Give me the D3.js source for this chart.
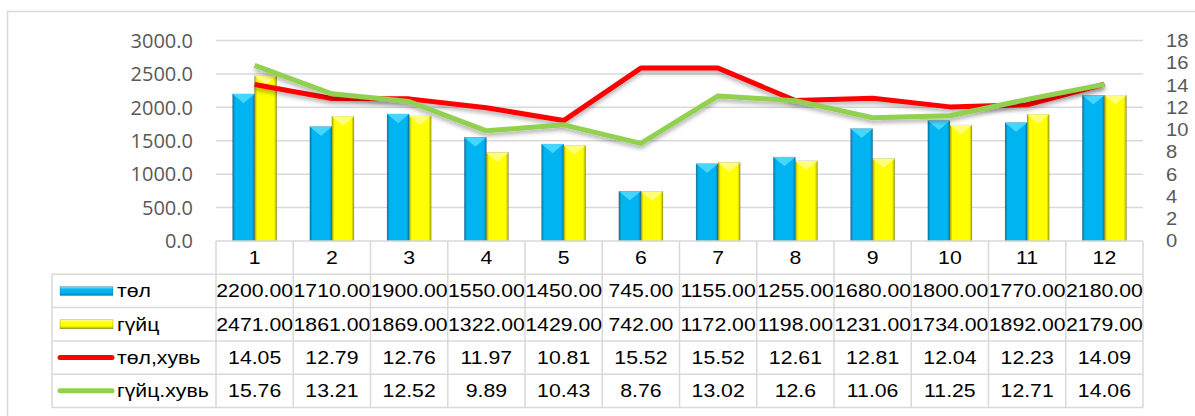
<!DOCTYPE html>
<html>
<head>
<meta charset="utf-8">
<script src="https://cdn.jsdelivr.net/npm/d3@7"></script>
<style>
  body { margin: 0; background: #fff; }
  svg { display: block; }
</style>
</head>
<body>
<svg width="1195" height="416"></svg>
<script>
// data
const months = ["1", "2", "3", "4", "5", "6", "7", "8", "9", "10", "11", "12"];
const tol = [2200, 1710, 1900, 1550, 1450, 745, 1155, 1255, 1680, 1800, 1770, 2180];
const guits = [2471, 1861, 1869, 1322, 1429, 742, 1172, 1198, 1231, 1734, 1892, 2179];
const tolPct = [14.05, 12.79, 12.76, 11.97, 10.81, 15.52, 15.52, 12.61, 12.81, 12.04, 12.23, 14.09];
const guitsPct = [15.76, 13.21, 12.52, 9.89, 10.43, 8.76, 13.02, "12.6", 11.06, 11.25, 12.71, 14.06];
const leftTicks = [0, 500, 1000, 1500, 2000, 2500, 3000];
const rightTicks = [0, 2, 4, 6, 8, 10, 12, 14, 16, 18];
const seriesNames = ["төл", "гүйц", "төл,хувь", "гүйц.хувь"];

const svg = d3.select("svg");
const plotLeft = 216, plotRight = 1143, plotTop = 40.5, plotBottom = 241;
const rowH = 33.3, tableLeft = 52;

const x = d3.scaleBand().domain(months).range([plotLeft, plotRight]).padding(0);
const yL = d3.scaleLinear().domain([0, 3000]).range([plotBottom, plotTop]);
const yR = d3.scaleLinear().domain([0, 18]).range([plotBottom, plotTop]);
const inner = d3.scaleBand().domain(["tol", "guits"])
    .range([0, x.bandwidth() * 0.57]).padding(0);
const groupOff = (x.bandwidth() - x.bandwidth() * 0.57) / 2;

// defs: gradients + shadow
const defs = svg.append("defs");
function hGrad(id, edge, mid) {
  const g = defs.append("linearGradient").attr("id", id);
  [[0, edge], [0.12, mid], [0.88, mid], [1, edge]].forEach(s =>
    g.append("stop").attr("offset", s[0]).attr("stop-color", s[1]));
}
function vGrad(id, top, mid, bot) {
  const g = defs.append("linearGradient").attr("id", id)
      .attr("x1", 0).attr("y1", 0).attr("x2", 0).attr("y2", 1);
  [[0, top], [0.35, mid], [0.7, mid], [1, bot]].forEach(s =>
    g.append("stop").attr("offset", s[0]).attr("stop-color", s[1]));
}
hGrad("gBlue", "#0679a8", "#00b4f2");
hGrad("gYellow", "#a9a800", "#ffff00");
vGrad("kBlue", "#7fe3ff", "#00b4f2", "#0679a8");
vGrad("kYellow", "#ffff99", "#ffff00", "#a9a800");
const f = defs.append("filter").attr("id", "shadow")
    .attr("x", "-5%").attr("y", "-20%").attr("width", "110%").attr("height", "160%");
f.append("feDropShadow").attr("dx", 0).attr("dy", 3).attr("stdDeviation", 2)
    .attr("flood-color", "#000").attr("flood-opacity", 0.3);

// outer chart border
svg.append("rect")
    .attr("x", 7.5).attr("y", 11.5).attr("width", 1300).attr("height", 500)
    .attr("fill", "#fff").attr("stroke", "#d9d9d9").attr("stroke-width", 1.5);

// gridlines
svg.append("g").selectAll("line").data(leftTicks.slice(1)).join("line")
    .attr("x1", plotLeft).attr("x2", plotRight)
    .attr("y1", d => yL(d)).attr("y2", d => yL(d))
    .attr("stroke", "#d9d9d9").attr("stroke-width", 1.5);

// left axis labels
svg.append("g").selectAll("text").data(leftTicks).join("text")
    .attr("x", 193).attr("y", d => yL(d)).attr("dy", "0.36em")
    .attr("text-anchor", "end")
    .attr("font-family", "'Open Sans', sans-serif").attr("font-size", 20)
    .attr("fill", "#595959")
    .text(d => d.toFixed(1));

// right axis labels (tightly packed, as in the original)
svg.append("g").selectAll("text").data(rightTicks).join("text")
    .attr("transform", d => `translate(1166,${yR(d)}) scale(1.12,1)`)
    .attr("dy", "0.36em")
    .attr("font-family", "'Liberation Sans', Arial, sans-serif").attr("font-size", 18)
    .attr("fill", "#595959")
    .text(d => d);

// bars with bevelled look
function drawBars(vals, key, grad, topCol) {
  const g = svg.append("g");
  const bw = inner.bandwidth();
  vals.forEach((v, i) => {
    const bx = x(months[i]) + groupOff + inner(key);
    const by = yL(v);
    const bh = plotBottom - by;
    g.append("rect").attr("x", bx).attr("y", by).attr("width", bw).attr("height", bh)
        .attr("fill", `url(#${grad})`).attr("stroke", "rgba(0,0,0,0.25)").attr("stroke-width", 0.6);
    const bev = Math.min(bw * 0.42, bh);
    g.append("path")
        .attr("d", `M${bx},${by}L${bx + bw},${by}L${bx + bw / 2},${by + bev}Z`)
        .attr("fill", topCol);
  });
}
drawBars(tol, "tol", "gBlue", "#45d6ff");
drawBars(guits, "guits", "gYellow", "#ffff7a");

// lines on the secondary axis
const cx = i => x(months[i]) + x.bandwidth() / 2;
const line = d3.line().x((d, i) => cx(i)).y(d => yR(+d));
svg.append("path").datum(tolPct).attr("d", line)
    .attr("fill", "none").attr("stroke", "#ff0000").attr("stroke-width", 5)
    .attr("stroke-linejoin", "round").attr("filter", "url(#shadow)");
svg.append("path").datum(guitsPct).attr("d", line)
    .attr("fill", "none").attr("stroke", "#92d050").attr("stroke-width", 5)
    .attr("stroke-linejoin", "round").attr("filter", "url(#shadow)");

// data table
const tbl = svg.append("g");
const gridCol = "#d9d9d9";
const tableTop = plotBottom + rowH; // top of first data row
const tableBottom = tableTop + rowH * 4;
// horizontal lines
tbl.append("line").attr("x1", plotLeft).attr("x2", plotRight)
    .attr("y1", plotBottom).attr("y2", plotBottom)
    .attr("stroke", gridCol).attr("stroke-width", 1.5);
d3.range(5).forEach(r => {
  tbl.append("line").attr("x1", tableLeft).attr("x2", plotRight)
      .attr("y1", tableTop + r * rowH).attr("y2", tableTop + r * rowH)
      .attr("stroke", gridCol).attr("stroke-width", 1.5);
});
// vertical lines
tbl.append("line").attr("x1", tableLeft).attr("x2", tableLeft)
    .attr("y1", tableTop).attr("y2", tableBottom)
    .attr("stroke", gridCol).attr("stroke-width", 1.5);
months.forEach(m => {
  tbl.append("line").attr("x1", x(m)).attr("x2", x(m))
      .attr("y1", plotBottom).attr("y2", tableBottom)
      .attr("stroke", gridCol).attr("stroke-width", 1.5);
});
tbl.append("line").attr("x1", plotRight).attr("x2", plotRight)
    .attr("y1", plotBottom).attr("y2", tableBottom)
    .attr("stroke", gridCol).attr("stroke-width", 1.5);

function cellText(tx, ty, str, anchor) {
  tbl.append("text")
      .attr("transform", `translate(${tx},${ty}) scale(1.18,1)`)
      .attr("text-anchor", anchor).attr("dy", "0.36em")
      .attr("font-family", "'Liberation Sans', Arial, sans-serif")
      .attr("font-size", 18).attr("fill", "#000")
      .text(str);
}
// header row
months.forEach(m => cellText(x(m) + x.bandwidth() / 2, plotBottom + rowH / 2, m, "middle"));

const rows = [
  tol.map(v => v.toFixed(2)),
  guits.map(v => v.toFixed(2)),
  tolPct.map(String),
  guitsPct.map(String)
];
rows.forEach((vals, r) => {
  const cy = tableTop + r * rowH + rowH / 2;
  vals.forEach((v, i) => cellText(x(months[i]) + x.bandwidth() / 2, cy, v, "middle"));
  cellText(117, cy, seriesNames[r], "start");
  if (r < 2) {
    tbl.append("rect").attr("x", 60).attr("y", cy - 4.5).attr("width", 53).attr("height", 9)
        .attr("fill", r === 0 ? "url(#kBlue)" : "url(#kYellow)")
        .attr("stroke", "rgba(0,0,0,0.3)").attr("stroke-width", 0.6);
  } else {
    tbl.append("line").attr("x1", 60).attr("x2", 112).attr("y1", cy).attr("y2", cy)
        .attr("stroke", r === 2 ? "#ff0000" : "#92d050").attr("stroke-width", 5)
        .attr("stroke-linecap", "round");
  }
});
</script>
</body>
</html>
